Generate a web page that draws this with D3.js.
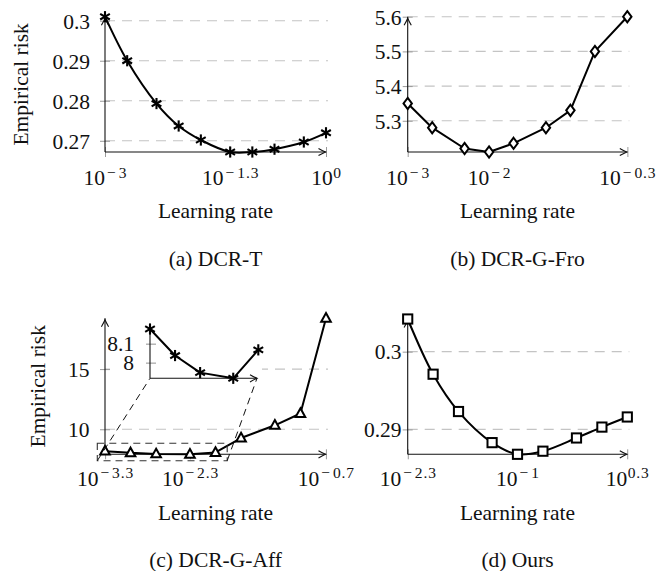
<!DOCTYPE html>
<html>
<head>
<meta charset="utf-8">
<script src="https://cdn.jsdelivr.net/npm/d3@7/dist/d3.min.js"></script>
<style>
  html, body { margin: 0; padding: 0; background: #fff; }
  svg { display: block; }
</style>
</head>
<body>
<script>
// ---- data -------------------------------------------------------------
// (a) DCR-T
const lrA   = [0.001, 0.002, 0.005, 0.01, 0.02, 0.05, 0.1, 0.2, 0.5, 1];
const riskA = [0.3010, 0.2900, 0.2793, 0.2737, 0.2702, 0.2672, 0.2672, 0.2679, 0.2697, 0.2720];
const xExpA = [-3, -1.3, 0];
const yTickA = [0.27, 0.28, 0.29, 0.3];

// (b) DCR-G-Fro
const lrB   = [0.001, 0.002, 0.005, 0.01, 0.02, 0.05, 0.1, 0.2, 0.5];
const riskB = [5.35, 5.28, 5.22, 5.21, 5.235, 5.28, 5.33, 5.50, 5.60];
const xExpB = [-3, -2, -0.3];
const yTickB = [5.3, 5.4, 5.5, 5.6];

// (c) DCR-G-Aff (the first five points are magnified in the inset)
const lrC   = [0.0005, 0.001, 0.002, 0.005, 0.01, 0.02, 0.05, 0.1, 0.2];
const riskC = [8.18, 8.04, 7.95, 7.92, 8.07, 9.27, 10.33, 11.31, 19.22];
const xExpC = [-3.3, -2.3, -0.7];
const yTickC = [10, 15];
const insetCount = 5;
const yTickInset = [8, 8.1];

// (d) Ours
const lrD   = [0.005, 0.01, 0.02, 0.05, 0.1, 0.2, 0.5, 1, 2];
const riskD = [0.3042, 0.2971, 0.2923, 0.2883, 0.2868, 0.2872, 0.2889, 0.2903, 0.2916];
const xExpD = [-2.3, -1, 0.3];
const yTickD = [0.29, 0.3];

const captions = ["(a) DCR-T", "(b) DCR-G-Fro", "(c) DCR-G-Aff", "(d) Ours"];
const xTitle = "Learning rate";
const yTitle = "Empirical risk";

// ---- layout -----------------------------------------------------------
const W = 672, H = 571;
const FONT = "'Liberation Serif', 'Times New Roman', serif";
const FS = 21.5;
const GRID = "#c4c4c4";
const TICK = "#9a9a9a";

const svg = d3.select("body").append("svg")
  .attr("width", W).attr("height", H)
  .attr("font-family", FONT);

const rows = [
  { tick: 185, title: 218, cap: 266 },
  { tick: 486, title: 520, cap: 567 }
];

const panels = [
  { lr: lrA, risk: riskA, xExp: xExpA, yTicks: yTickA, x0: 105, x1: 326, yb: 152, yt: 16.7,
    labelRight: 90, mark: "asterisk", smooth: true, row: rows[0], caption: captions[0], yTitleX: 27.5 },
  { lr: lrB, risk: riskB, xExp: xExpB, yTicks: yTickB, x0: 407.7, x1: 627.3, yb: 152, yt: 16.7,
    labelRight: 401.5, mark: "diamond", smooth: false, row: rows[0], caption: captions[1] },
  { lr: lrC, risk: riskC, xExp: xExpC, yTicks: yTickC, x0: 105, x1: 326, yb: 454.3, yt: 318.3,
    labelRight: 89.5, mark: "triangle", smooth: false, row: rows[1], caption: captions[2], yTitleX: 44.5, inset: true },
  { lr: lrD, risk: riskD, xExp: xExpD, yTicks: yTickD, x0: 407.7, x1: 627.3, yb: 454.3, yt: 319,
    labelRight: 401.5, mark: "square", smooth: true, row: rows[1], caption: captions[3] }
];

// ---- helpers ----------------------------------------------------------
function arrowRight(g, x, y) {
  g.append("path")
    .attr("d", `M${x - 7},${y - 3.6} Q${x - 2.5},${y - 1} ${x},${y} Q${x - 2.5},${y + 1} ${x - 7},${y + 3.6}`)
    .attr("fill", "none").attr("stroke", "#111").attr("stroke-width", 1.1);
}
function arrowUp(g, x, y) {
  g.append("path")
    .attr("d", `M${x - 3.6},${y + 7} Q${x - 1},${y + 2.5} ${x},${y} Q${x + 1},${y + 2.5} ${x + 3.6},${y + 7}`)
    .attr("fill", "none").attr("stroke", "#111").attr("stroke-width", 1.1);
}

function drawMarks(g, pts, kind) {
  const m = g.selectAll("g.mk").data(pts).join("g")
    .attr("class", "mk")
    .attr("transform", d => `translate(${d[0]},${d[1]})`);
  const st = sel => sel.attr("fill", "#fff").attr("stroke", "#000").attr("stroke-width", 2)
    .attr("stroke-linejoin", "miter");
  if (kind === "asterisk") {
    const r = 5.6;
    [90, 30, 150].forEach(a => {
      const c = Math.cos(a * Math.PI / 180) * r, s = Math.sin(a * Math.PI / 180) * r;
      m.append("line").attr("x1", -c).attr("y1", -s).attr("x2", c).attr("y2", s)
        .attr("stroke", "#000").attr("stroke-width", 2.1);
    });
  } else if (kind === "diamond") {
    st(m.append("path").attr("d", "M0,-5.6 L4.2,0 L0,5.6 L-4.2,0 Z"));
  } else if (kind === "triangle") {
    st(m.append("path").attr("d", "M0,-5.2 L4.8,3.4 L-4.8,3.4 Z"));
  } else if (kind === "square") {
    st(m.append("rect").attr("x", -4.6).attr("y", -4.6).attr("width", 9.2).attr("height", 9.2));
  }
}

function expText(e) {
  return e < 0 ? ["−", String(Math.abs(e))] : [null, String(e)];
}

function powLabel(sel) {
  sel.append("tspan").text("10");
  const sup = sel.append("tspan").attr("dy", -7.5).attr("font-size", 15.5).attr("letter-spacing", 0.9);
  sel.each(function (e) {
    const [sign, body] = expText(e);
    const s = d3.select(this).select("tspan:nth-child(2)");
    if (sign) s.append("tspan").attr("dx", 2).text(sign);
    s.append("tspan").attr("dx", sign ? 2 : 0.5).text(body);
  });
}

// ---- panels -----------------------------------------------------------
panels.forEach(p => {
  const g = svg.append("g");
  const x = d3.scaleLog().domain(d3.extent(p.lr)).range([p.x0, p.x1]);
  const y = d3.scaleLinear().domain(d3.extent(p.risk)).range([p.yb, p.yt]);

  // horizontal grid
  g.append("g").selectAll("line").data(p.yTicks).join("line")
    .attr("x1", p.x0).attr("x2", p.x1 + 2)
    .attr("y1", d => y(d)).attr("y2", d => y(d))
    .attr("stroke", GRID).attr("stroke-width", 1.1).attr("stroke-dasharray", "10,7");

  // y axis ticks and labels
  const ya = g.append("g").attr("transform", `translate(${p.x0},0)`)
    .call(d3.axisLeft(y).tickValues(p.yTicks).tickFormat(d => String(d)).tickSize(5));
  ya.select(".domain").remove();
  ya.attr("font-family", FONT).attr("font-size", FS);
  ya.selectAll(".tick line").attr("x1", 5).attr("stroke", TICK);
  ya.selectAll(".tick text").attr("x", p.labelRight - p.x0).attr("dy", "0.34em").attr("fill", "#111");

  // x axis ticks and labels
  const xa = g.append("g").attr("transform", `translate(0,${p.yb})`)
    .call(d3.axisBottom(x).tickValues(p.xExp.map(e => Math.pow(10, e))).tickFormat("").tickSize(5));
  xa.select(".domain").remove();
  xa.selectAll(".tick line").attr("y1", -5).attr("stroke", TICK);
  xa.selectAll(".tick text").remove();
  xa.selectAll(".tick").data(p.xExp).append("text")
    .attr("y", p.row.tick - p.yb).attr("text-anchor", "middle")
    .attr("font-family", FONT).attr("font-size", FS).attr("fill", "#111")
    .call(powLabel);

  // axis lines with arrow heads
  g.append("line").attr("x1", p.x0).attr("x2", p.x1).attr("y1", p.yb).attr("y2", p.yb)
    .attr("stroke", "#111").attr("stroke-width", 1.1);
  arrowRight(g, p.x1 - 0.5, p.yb);
  g.append("line").attr("x1", p.x0).attr("x2", p.x0).attr("y1", p.yb).attr("y2", p.yt)
    .attr("stroke", "#111").attr("stroke-width", 1.1);
  arrowUp(g, p.x0, p.yt + 1.5);

  // series
  const pts = p.lr.map((v, i) => [x(v), y(p.risk[i])]);
  const line = d3.line().curve(p.smooth ? d3.curveCatmullRom.alpha(0.5) : d3.curveLinear);
  g.append("path").attr("d", line(pts)).attr("fill", "none")
    .attr("stroke", "#000").attr("stroke-width", 2).attr("stroke-linejoin", "round");
  drawMarks(g, pts, p.mark);

  // titles
  const cx = (p.x0 + p.x1) / 2;
  g.append("text").attr("x", cx).attr("y", p.row.title).attr("text-anchor", "middle")
    .attr("font-size", FS).attr("fill", "#111").text(xTitle);
  g.append("text").attr("x", cx).attr("y", p.row.cap).attr("text-anchor", "middle")
    .attr("font-size", FS).attr("fill", "#111").text(p.caption);
  if (p.yTitleX) {
    g.append("text")
      .attr("transform", `translate(${p.yTitleX},${(p.yb + p.yt) / 2}) rotate(-90)`)
      .attr("text-anchor", "middle").attr("font-size", FS).attr("fill", "#111").text(yTitle);
  }

  if (p.inset) drawInset(g, p, x, y);
});

// ---- magnified view of the first points of (c) -------------------------
function drawInset(g, p, x, y) {
  const lr = p.lr.slice(0, insetCount);
  const rk = p.risk.slice(0, insetCount);

  // dashed window around the magnified points
  const bx0 = x(lr[0]) - 7.7, bx1 = x(lr[lr.length - 1]) + 11.7;
  const by0 = y(d3.max(rk)) - 7.9, by1 = y(d3.min(rk)) + 6.4;

  const ox = 150, oy = 378.3;               // inset origin
  const ix = d3.scaleLog().domain(d3.extent(lr)).range([ox, 258.3]);
  const iy = d3.scaleLinear().domain(d3.extent(rk)).range([oy, 329]);

  // white backing so the main grid does not show through
  g.append("rect").attr("x", 110).attr("y", 321).attr("width", 152).attr("height", 63)
    .attr("fill", "#fff");

  g.append("rect").attr("x", bx0).attr("y", by0).attr("width", bx1 - bx0).attr("height", by1 - by0)
    .attr("fill", "none").attr("stroke", "#333").attr("stroke-width", 1.1).attr("stroke-dasharray", "7,5");

  const axEnd = 257;
  [[bx0, ox], [bx1, axEnd]].forEach(([a, b]) => {
    g.append("line").attr("x1", a).attr("y1", by1).attr("x2", b).attr("y2", oy)
      .attr("stroke", "#111").attr("stroke-width", 1).attr("stroke-dasharray", "7,5");
  });

  // inset axes
  g.append("g").selectAll("line").data(yTickInset).join("line")
    .attr("x1", ox - 4).attr("x2", ox + 6).attr("y1", d => iy(d)).attr("y2", d => iy(d))
    .attr("stroke", TICK).attr("stroke-width", 1.1);
  g.append("g").selectAll("text").data(yTickInset).join("text")
    .attr("x", 134).attr("y", d => iy(d)).attr("dy", "0.34em").attr("text-anchor", "end")
    .attr("font-size", FS).attr("fill", "#111").text(d => String(d));

  g.append("line").attr("x1", ox).attr("x2", axEnd).attr("y1", oy).attr("y2", oy)
    .attr("stroke", "#111").attr("stroke-width", 1.1);
  arrowRight(g, axEnd, oy);
  g.append("line").attr("x1", ox).attr("x2", ox).attr("y1", oy).attr("y2", iy(d3.max(rk)))
    .attr("stroke", "#111").attr("stroke-width", 1.1);

  const pts = lr.map((v, i) => [ix(v), iy(rk[i])]);
  g.append("path").attr("d", d3.line()(pts)).attr("fill", "none")
    .attr("stroke", "#000").attr("stroke-width", 2).attr("stroke-linejoin", "round");
  const mg = g.append("g");
  drawMarks(mg, pts, "asterisk");
}
</script>
</body>
</html>
